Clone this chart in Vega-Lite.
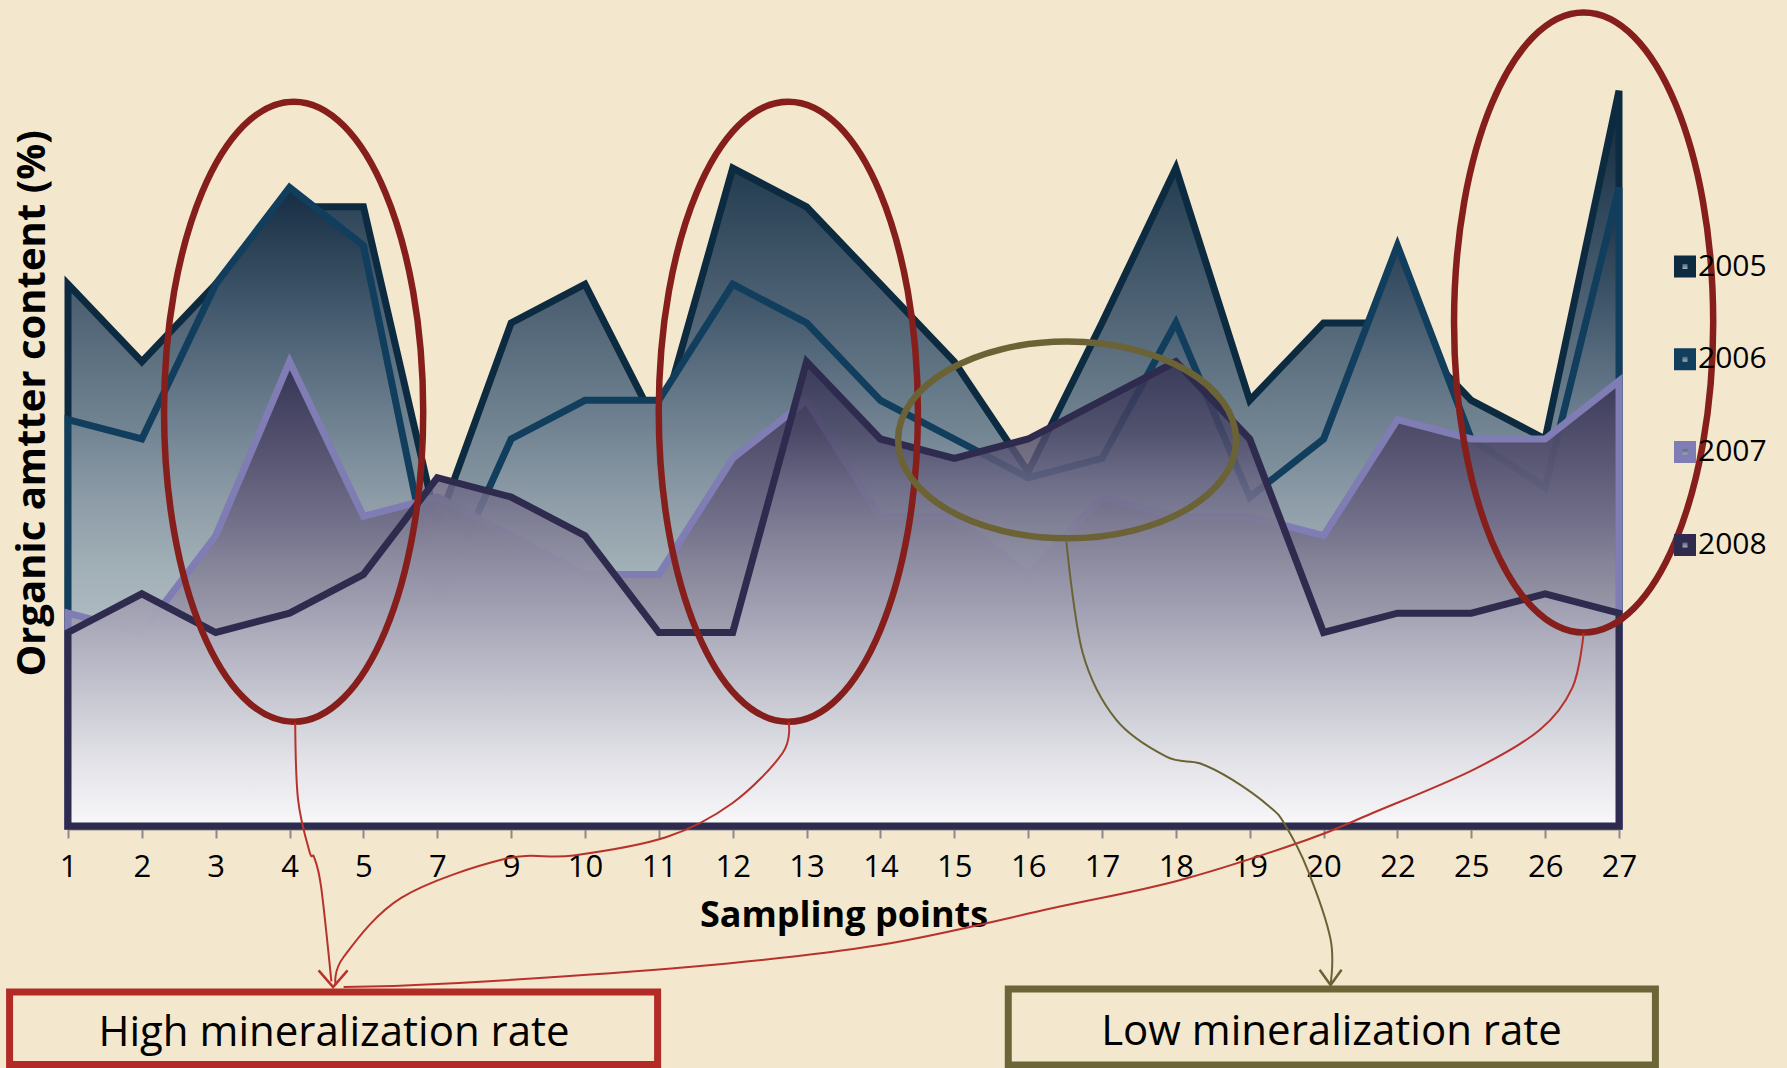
{
  "$schema": "https://vega.github.io/schema/vega-lite/v6.json",
  "width": 1551,
  "height": 774,
  "autosize": {"type": "none"},
  "padding": {"left": 68, "top": 52, "right": 168, "bottom": 242},
  "background": "#f3e7cd",
  "config": {"view": {"stroke": null}, "font": "Open Sans"},
  "datasets": {
    "series": [
      {"point": "1", "year": "2005", "value": 2.8}, {"point": "2", "year": "2005", "value": 2.4}, {"point": "3", "year": "2005", "value": 2.8}, {"point": "4", "year": "2005", "value": 3.2}, {"point": "5", "year": "2005", "value": 3.2}, {"point": "7", "year": "2005", "value": 1.55}, {"point": "9", "year": "2005", "value": 2.6}, {"point": "10", "year": "2005", "value": 2.8}, {"point": "11", "year": "2005", "value": 2.05}, {"point": "12", "year": "2005", "value": 3.4}, {"point": "13", "year": "2005", "value": 3.2}, {"point": "14", "year": "2005", "value": 2.8}, {"point": "15", "year": "2005", "value": 2.4}, {"point": "16", "year": "2005", "value": 1.83}, {"point": "17", "year": "2005", "value": 2.6}, {"point": "18", "year": "2005", "value": 3.4}, {"point": "19", "year": "2005", "value": 2.2}, {"point": "20", "year": "2005", "value": 2.6}, {"point": "22", "year": "2005", "value": 2.6}, {"point": "25", "year": "2005", "value": 2.2}, {"point": "26", "year": "2005", "value": 2.0}, {"point": "27", "year": "2005", "value": 3.8},
      {"point": "1", "year": "2006", "value": 2.1}, {"point": "2", "year": "2006", "value": 2.0}, {"point": "3", "year": "2006", "value": 2.8}, {"point": "4", "year": "2006", "value": 3.3}, {"point": "5", "year": "2006", "value": 3.0}, {"point": "7", "year": "2006", "value": 1.15}, {"point": "9", "year": "2006", "value": 2.0}, {"point": "10", "year": "2006", "value": 2.2}, {"point": "11", "year": "2006", "value": 2.2}, {"point": "12", "year": "2006", "value": 2.8}, {"point": "13", "year": "2006", "value": 2.6}, {"point": "14", "year": "2006", "value": 2.2}, {"point": "15", "year": "2006", "value": 2.0}, {"point": "16", "year": "2006", "value": 1.8}, {"point": "17", "year": "2006", "value": 1.9}, {"point": "18", "year": "2006", "value": 2.6}, {"point": "19", "year": "2006", "value": 1.7}, {"point": "20", "year": "2006", "value": 2.0}, {"point": "22", "year": "2006", "value": 3.0}, {"point": "25", "year": "2006", "value": 2.0}, {"point": "26", "year": "2006", "value": 1.75}, {"point": "27", "year": "2006", "value": 3.3},
      {"point": "1", "year": "2007", "value": 1.1}, {"point": "2", "year": "2007", "value": 1.0}, {"point": "3", "year": "2007", "value": 1.5}, {"point": "4", "year": "2007", "value": 2.4}, {"point": "5", "year": "2007", "value": 1.6}, {"point": "7", "year": "2007", "value": 1.7}, {"point": "9", "year": "2007", "value": 1.5}, {"point": "10", "year": "2007", "value": 1.3}, {"point": "11", "year": "2007", "value": 1.3}, {"point": "12", "year": "2007", "value": 1.9}, {"point": "13", "year": "2007", "value": 2.2}, {"point": "14", "year": "2007", "value": 1.6}, {"point": "15", "year": "2007", "value": 1.6}, {"point": "16", "year": "2007", "value": 1.3}, {"point": "17", "year": "2007", "value": 1.7}, {"point": "18", "year": "2007", "value": 1.6}, {"point": "19", "year": "2007", "value": 1.6}, {"point": "20", "year": "2007", "value": 1.5}, {"point": "22", "year": "2007", "value": 2.1}, {"point": "25", "year": "2007", "value": 2.0}, {"point": "26", "year": "2007", "value": 2.0}, {"point": "27", "year": "2007", "value": 2.3},
      {"point": "1", "year": "2008", "value": 1.0}, {"point": "2", "year": "2008", "value": 1.2}, {"point": "3", "year": "2008", "value": 1.0}, {"point": "4", "year": "2008", "value": 1.1}, {"point": "5", "year": "2008", "value": 1.3}, {"point": "7", "year": "2008", "value": 1.8}, {"point": "9", "year": "2008", "value": 1.7}, {"point": "10", "year": "2008", "value": 1.5}, {"point": "11", "year": "2008", "value": 1.0}, {"point": "12", "year": "2008", "value": 1.0}, {"point": "13", "year": "2008", "value": 2.4}, {"point": "14", "year": "2008", "value": 2.0}, {"point": "15", "year": "2008", "value": 1.9}, {"point": "16", "year": "2008", "value": 2.0}, {"point": "17", "year": "2008", "value": 2.2}, {"point": "18", "year": "2008", "value": 2.4}, {"point": "19", "year": "2008", "value": 2.0}, {"point": "20", "year": "2008", "value": 1.0}, {"point": "22", "year": "2008", "value": 1.1}, {"point": "25", "year": "2008", "value": 1.1}, {"point": "26", "year": "2008", "value": 1.2}, {"point": "27", "year": "2008", "value": 1.1}
    ]
  },
  "resolve": {"scale": {"x": "independent"}},
  "layer": [
    {
      "data": {"name": "series"},
      "transform": [{"filter": "datum.year === '2005'"}],
      "mark": {"type": "area", "strokeWidth": 7, "strokeJoin": "miter", "strokeMiterLimit": 3,
        "fill": {"gradient": "linear", "x1": 0, "y1": 0, "x2": 0, "y2": 1, "stops": [
          {"offset": 0, "color": "#0f2437"}, {"offset": 0.14, "color": "#2b4357"}, {"offset": 0.3, "color": "#4f6375"}, {"offset": 0.5, "color": "#7b8d99"}, {"offset": 0.7, "color": "#a3b1b8"}, {"offset": 1, "color": "#dfe4e7"}]}},
      "encoding": {
        "x": {"field": "point", "type": "ordinal", "sort": null,
          "scale": {"type": "point", "padding": 0, "domain": ["1","2","3","4","5","7","9","10","11","12","13","14","15","16","17","18","19","20","22","25","26","27"]},
          "axis": {"title": "Sampling points", "titleFont": "Open Sans", "titleFontSize": 36, "titleFontWeight": "bold", "titleColor": "#000000", "titleY": 86, "titleBaseline": "middle",
            "labelFont": "Open Sans", "labelFontSize": 31, "labelColor": "#000000", "labelAngle": 0, "labelPadding": 14, "labelBaseline": "top", "labelOverlap": false, "labelFlush": false,
            "tickSize": 9, "tickColor": "#8a8a8a", "tickWidth": 2, "domainColor": "#8a8a8a", "domainWidth": 2, "offset": 3, "grid": false}},
        "y": {"field": "value", "type": "quantitative", "scale": {"domain": [0, 4], "nice": false},
          "axis": {"title": null, "labels": false, "ticks": false, "domain": false, "grid": true, "gridColor": "#8e8e8e", "gridWidth": 2, "values": [0.5, 1, 1.5, 2, 2.5, 3, 3.5, 4]}},
        "stroke": {"field": "year", "type": "nominal",
          "scale": {"domain": ["2005", "2006", "2007", "2008"], "range": ["#0c2a40", "#123e5e", "#807cb4", "#2e2b4e"]},
          "legend": {"title": null, "orient": "none", "legendX": 1602, "legendY": 199.5, "direction": "vertical", "padding": 0,
            "symbolType": "square", "symbolSize": 182, "symbolStrokeWidth": 8.5, "symbolFillColor": "#d4d4da", "symbolOpacity": 1,
            "labelFont": "Open Sans", "labelFontSize": 30, "labelColor": "#000000", "labelOffset": -2, "rowPadding": 44.8}}
      }
    },
    {
      "data": {"name": "series"},
      "transform": [{"filter": "datum.year === '2006'"}],
      "mark": {"type": "area", "strokeWidth": 7, "strokeJoin": "miter", "strokeMiterLimit": 3,
        "fill": {"gradient": "linear", "x1": 0, "y1": 0, "x2": 0, "y2": 1, "stops": [
          {"offset": 0, "color": "#162c42"}, {"offset": 0.18, "color": "#40566a"}, {"offset": 0.33, "color": "#66798a"}, {"offset": 0.49, "color": "#8d9ca7"}, {"offset": 0.6, "color": "#a2b0b7"}, {"offset": 1, "color": "#e0e5e8"}]}},
      "encoding": {
        "x": {"field": "point", "type": "ordinal", "sort": null, "scale": {"type": "point", "padding": 0, "domain": ["1","2","3","4","5","7","9","10","11","12","13","14","15","16","17","18","19","20","22","25","26","27"]}, "axis": null},
        "y": {"field": "value", "type": "quantitative", "scale": {"domain": [0, 4], "nice": false}},
        "stroke": {"field": "year", "type": "nominal", "scale": {"domain": ["2005", "2006", "2007", "2008"], "range": ["#0c2a40", "#123e5e", "#807cb4", "#2e2b4e"]}}
      }
    },
    {
      "data": {"name": "series"},
      "transform": [{"filter": "datum.year === '2007'"}],
      "mark": {"type": "area", "strokeWidth": 7, "strokeJoin": "miter", "strokeMiterLimit": 3,
        "fill": {"gradient": "linear", "x1": 0, "y1": 0, "x2": 0, "y2": 1, "stops": [
          {"offset": 0, "color": "rgba(52,48,82,0.95)"}, {"offset": 0.07, "color": "rgba(63,60,92,0.95)"}, {"offset": 0.2, "color": "rgba(85,82,111,0.95)"}, {"offset": 0.34, "color": "rgba(111,108,135,0.95)"}, {"offset": 0.45, "color": "rgba(135,133,153,0.95)"}, {"offset": 0.7, "color": "rgba(185,184,198,0.97)"}, {"offset": 1, "color": "rgba(236,236,241,1)"}]}},
      "encoding": {
        "x": {"field": "point", "type": "ordinal", "sort": null, "scale": {"type": "point", "padding": 0, "domain": ["1","2","3","4","5","7","9","10","11","12","13","14","15","16","17","18","19","20","22","25","26","27"]}, "axis": null},
        "y": {"field": "value", "type": "quantitative", "scale": {"domain": [0, 4], "nice": false}},
        "stroke": {"field": "year", "type": "nominal", "scale": {"domain": ["2005", "2006", "2007", "2008"], "range": ["#0c2a40", "#123e5e", "#807cb4", "#2e2b4e"]}}
      }
    },
    {
      "data": {"name": "series"},
      "transform": [{"filter": "datum.year === '2008'"}],
      "mark": {"type": "area", "strokeWidth": 7, "strokeJoin": "miter", "strokeMiterLimit": 3,
        "fill": {"gradient": "linear", "x1": 0, "y1": 0, "x2": 0, "y2": 1, "stops": [
          {"offset": 0, "color": "rgba(50,46,80,0.8)"}, {"offset": 0.15, "color": "rgba(74,71,102,0.82)"}, {"offset": 0.26, "color": "rgba(106,103,133,0.85)"}, {"offset": 0.38, "color": "rgba(133,131,153,0.9)"}, {"offset": 0.51, "color": "rgba(157,156,175,0.95)"}, {"offset": 0.62, "color": "rgba(179,179,194,1)"}, {"offset": 0.73, "color": "rgba(201,201,211,1)"}, {"offset": 0.86, "color": "rgba(226,226,232,1)"}, {"offset": 1, "color": "rgba(248,248,250,1)"}]}},
      "encoding": {
        "x": {"field": "point", "type": "ordinal", "sort": null, "scale": {"type": "point", "padding": 0, "domain": ["1","2","3","4","5","7","9","10","11","12","13","14","15","16","17","18","19","20","22","25","26","27"]}, "axis": null},
        "y": {"field": "value", "type": "quantitative", "scale": {"domain": [0, 4], "nice": false}},
        "stroke": {"field": "year", "type": "nominal", "scale": {"domain": ["2005", "2006", "2007", "2008"], "range": ["#0c2a40", "#123e5e", "#807cb4", "#2e2b4e"]}}
      }
    },
    {
      "data": {"values": [{"cx": 3.055, "cy": 2.141}, {"cx": 9.753, "cy": 2.141}, {"cx": 20.521, "cy": 2.602}]},
      "mark": {"type": "point", "shape": "M -0.418 0 A 0.418 1 0 1 0 0.418 0 A 0.418 1 0 1 0 -0.418 0 Z", "size": 384400, "filled": false, "stroke": "#861f1b", "strokeWidth": 6.5, "opacity": 1},
      "encoding": {
        "x": {"field": "cx", "type": "quantitative", "scale": {"domain": [0, 21], "nice": false, "zero": false}, "axis": null},
        "y": {"field": "cy", "type": "quantitative", "scale": {"domain": [0, 4], "nice": false}, "axis": null}
      }
    },
    {
      "data": {"values": [{"cx": 13.527, "cy": 1.995}]},
      "mark": {"type": "point", "shape": "M -1 0 A 1 0.582 0 1 0 1 0 A 1 0.582 0 1 0 -1 0 Z", "size": 114244, "filled": false, "stroke": "#6b6335", "strokeWidth": 6.5, "opacity": 1},
      "encoding": {
        "x": {"field": "cx", "type": "quantitative", "scale": {"domain": [0, 21], "nice": false, "zero": false}, "axis": null},
        "y": {"field": "cy", "type": "quantitative", "scale": {"domain": [0, 4], "nice": false}, "axis": null}
      }
    },
    {
      "data": {"values": [
        {"curve": "A", "px": 3.076, "py": 0.534}, {"curve": "A", "px": 3.115, "py": 0.136}, {"curve": "A", "px": 3.271, "py": -0.134}, {"curve": "A", "px": 3.333, "py": -0.162}, {"curve": "A", "px": 3.427, "py": -0.315}, {"curve": "A", "px": 3.566, "py": -0.803},
        {"curve": "B", "px": 9.757, "py": 0.537}, {"curve": "B", "px": 9.675, "py": 0.377}, {"curve": "B", "px": 8.999, "py": 0.119}, {"curve": "B", "px": 8.105, "py": -0.057}, {"curve": "B", "px": 6.846, "py": -0.152}, {"curve": "B", "px": 5.908, "py": -0.171}, {"curve": "B", "px": 4.517, "py": -0.37}, {"curve": "B", "px": 3.732, "py": -0.677}, {"curve": "B", "px": 3.624, "py": -0.822},
        {"curve": "C", "px": 20.521, "py": 0.997}, {"curve": "C", "px": 20.372, "py": 0.718}, {"curve": "C", "px": 19.925, "py": 0.496}, {"curve": "C", "px": 19.018, "py": 0.289}, {"curve": "C", "px": 17.664, "py": 0.067}, {"curve": "C", "px": 16.77, "py": -0.072}, {"curve": "C", "px": 15.064, "py": -0.279}, {"curve": "C", "px": 13.338, "py": -0.424}, {"curve": "C", "px": 10.989, "py": -0.615}, {"curve": "C", "px": 8.403, "py": -0.729}, {"curve": "C", "px": 5.289, "py": -0.811}, {"curve": "C", "px": 3.732, "py": -0.832}
      ]},
      "mark": {"type": "line", "interpolate": "cardinal", "stroke": "#b8322c", "strokeWidth": 2},
      "encoding": {
        "x": {"field": "px", "type": "quantitative", "scale": {"domain": [0, 21], "nice": false, "zero": false}, "axis": null},
        "y": {"field": "py", "type": "quantitative", "scale": {"domain": [0, 4], "nice": false}, "axis": null},
        "detail": {"field": "curve", "type": "nominal"},
        "order": {"value": null}
      }
    },
    {
      "data": {"values": [
        {"px": 13.518, "py": 1.469}, {"px": 13.739, "py": 0.894}, {"px": 14.194, "py": 0.548}, {"px": 14.871, "py": 0.358}, {"px": 15.322, "py": 0.324}, {"px": 15.768, "py": 0.238}, {"px": 16.269, "py": 0.1}, {"px": 16.472, "py": 0.01}, {"px": 16.783, "py": -0.225}, {"px": 17.095, "py": -0.586}, {"px": 17.095, "py": -0.822}
      ]},
      "mark": {"type": "line", "interpolate": "cardinal", "stroke": "#6b6335", "strokeWidth": 2},
      "encoding": {
        "x": {"field": "px", "type": "quantitative", "scale": {"domain": [0, 21], "nice": false, "zero": false}, "axis": null},
        "y": {"field": "py", "type": "quantitative", "scale": {"domain": [0, 4], "nice": false}, "axis": null},
        "order": {"value": null}
      }
    },
    {
      "data": {"values": [{"ax": 3.589, "ay": -0.832}]},
      "mark": {"type": "point", "shape": "M -1 -1.15 L 0 0 L 1 -1.15", "size": 841, "filled": false, "stroke": "#b8322c", "strokeWidth": 2.5, "opacity": 1},
      "encoding": {
        "x": {"field": "ax", "type": "quantitative", "scale": {"domain": [0, 21], "nice": false, "zero": false}, "axis": null},
        "y": {"field": "ay", "type": "quantitative", "scale": {"domain": [0, 4], "nice": false}, "axis": null}
      }
    },
    {
      "data": {"values": [{"ax": 17.095, "ay": -0.822}]},
      "mark": {"type": "point", "shape": "M -1 -1.4 L 0 0 L 1 -1.4", "size": 484, "filled": false, "stroke": "#6b6335", "strokeWidth": 2.5, "opacity": 1},
      "encoding": {
        "x": {"field": "ax", "type": "quantitative", "scale": {"domain": [0, 21], "nice": false, "zero": false}, "axis": null},
        "y": {"field": "ay", "type": "quantitative", "scale": {"domain": [0, 4], "nice": false}, "axis": null}
      }
    },
    {
      "data": {"values": [{"x1": -0.791, "x2": 7.983, "y1": -0.858, "y2": -1.233}]},
      "mark": {"type": "rect", "filled": false, "stroke": "#b22b27", "strokeWidth": 7},
      "encoding": {
        "x": {"field": "x1", "type": "quantitative", "scale": {"domain": [0, 21], "nice": false, "zero": false}, "axis": null},
        "x2": {"field": "x2"},
        "y": {"field": "y1", "type": "quantitative", "scale": {"domain": [0, 4], "nice": false}, "axis": null},
        "y2": {"field": "y2"}
      }
    },
    {
      "data": {"values": [{"x1": 12.731, "x2": 21.493, "y1": -0.842, "y2": -1.235}]},
      "mark": {"type": "rect", "filled": false, "stroke": "#6c6537", "strokeWidth": 7},
      "encoding": {
        "x": {"field": "x1", "type": "quantitative", "scale": {"domain": [0, 21], "nice": false, "zero": false}, "axis": null},
        "x2": {"field": "x2"},
        "y": {"field": "y1", "type": "quantitative", "scale": {"domain": [0, 4], "nice": false}, "axis": null},
        "y2": {"field": "y2"}
      }
    },
    {
      "data": {"values": [
        {"label": "High mineralization rate", "tx": 3.602, "ty": -1.072},
        {"label": "Low mineralization rate", "tx": 17.108, "ty": -1.064}
      ]},
      "mark": {"type": "text", "font": "Open Sans", "fontSize": 42, "color": "#000000", "align": "center", "baseline": "middle"},
      "encoding": {
        "x": {"field": "tx", "type": "quantitative", "scale": {"domain": [0, 21], "nice": false, "zero": false}, "axis": null},
        "y": {"field": "ty", "type": "quantitative", "scale": {"domain": [0, 4], "nice": false}, "axis": null},
        "text": {"field": "label", "type": "nominal"}
      }
    },
    {
      "data": {"values": [{"label": "Organic amtter content (%)", "tx": -0.479, "ty": 2.184}]},
      "mark": {"type": "text", "font": "Open Sans", "fontSize": 40, "fontWeight": "bold", "color": "#000000", "align": "center", "baseline": "middle", "angle": 270},
      "encoding": {
        "x": {"field": "tx", "type": "quantitative", "scale": {"domain": [0, 21], "nice": false, "zero": false}, "axis": null},
        "y": {"field": "ty", "type": "quantitative", "scale": {"domain": [0, 4], "nice": false}, "axis": null},
        "text": {"field": "label", "type": "nominal"}
      }
    }
  ]
}
